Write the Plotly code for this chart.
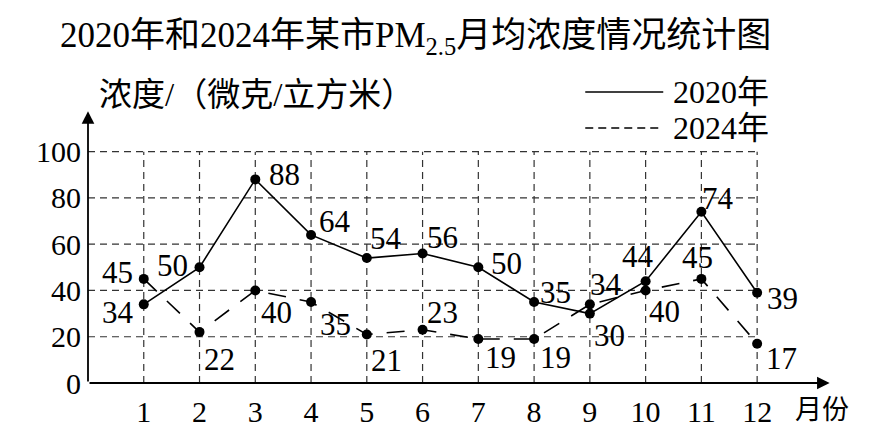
import plotly.graph_objects as go

months = list(range(1, 13))
month_labels = [str(m) for m in months]
v2020 = [34, 50, 88, 64, 54, 56, 50, 35, 30, 44, 74, 39]
v2024 = [45, 22, 40, 35, 21, 23, 19, 19, 34, 40, 45, 17]
yticks = [0, 20, 40, 60, 80, 100]

# label offsets (pixels, right / down) relative to each point -- style only
off2020 = [(-26, 8), (-27, -2), (29, -5), (24, -13), (19, -20), (20, -16),
           (28, -4), (21, -10), (20, 22), (-8, -25), (17, -13), (25, 6)]
off2024 = [(-26, -6), (20, 27), (21, 22), (24, 22), (20, 26), (20, -17),
           (22, 18), (21, 18), (16, -20), (19, 21), (-4, -21), (24, 15)]

FONT = "Liberation Serif, Noto Sans CJK SC, serif"
CJK = "Liberation Serif, Noto Sans CJK SC"

# page body has an 8px margin: shift everything to match
L, T, PB, PR = 80, 102, 61, 60

fig = go.Figure()

shapes = []
for t in yticks[1:]:
    shapes.append(dict(type="line", xref="x", yref="y", x0=0, x1=12, y0=t, y1=t,
                       line=dict(color="#333", width=1.2, dash="7px,5px"), layer="below"))
for m in months:
    shapes.append(dict(type="line", xref="x", yref="y", x0=m, x1=m, y0=0, y1=100,
                       line=dict(color="#333", width=1.2, dash="7px,5px"), layer="below"))

fig.add_trace(go.Scatter(x=months, y=v2020, mode="lines+markers", name="2020年",
                         line=dict(color="black", width=1.6),
                         marker=dict(color="black", size=10),
                         showlegend=False, cliponaxis=False))
fig.add_trace(go.Scatter(x=months, y=v2024, mode="lines+markers", name="2024年",
                         line=dict(color="black", width=1.6, dash="18px,14px"),
                         marker=dict(color="black", size=10),
                         showlegend=False, cliponaxis=False))

annotations = [
    dict(x=0, y=117.5, ax=0, ay=0, xref="x", yref="y", axref="x", ayref="y", text="",
         showarrow=True, arrowhead=2, arrowsize=1.4, arrowwidth=1.8, arrowcolor="black"),
    dict(x=13.3, y=0, ax=0, ay=0, xref="x", yref="y", axref="x", ayref="y", text="",
         showarrow=True, arrowhead=2, arrowsize=1.4, arrowwidth=1.8, arrowcolor="black"),
    dict(x=0.012, y=1.055, xref="paper", yref="paper", xanchor="left", yanchor="middle",
         text="浓度/（微克/立方米）", showarrow=False,
         font=dict(family=CJK, size=33, color="black")),
    dict(x=13.17, y=0, xref="x", yref="y", xanchor="center", yanchor="middle", yshift=-27,
         text="月份", showarrow=False,
         font=dict(family=CJK, size=27, color="black")),
]

for vals, offs in ((v2020, off2020), (v2024, off2024)):
    for m, v, (dx, dy) in zip(months, vals, offs):
        annotations.append(dict(x=m, y=v, xref="x", yref="y", text=str(v), showarrow=False,
                                xanchor="center", yanchor="middle", xshift=dx, yshift=-dy,
                                font=dict(family=FONT, size=31, color="black")))

legend_items = [("2020年", "solid", 1.066), ("2024年", "8px,5px", 0.934)]
for name, dash, yy in legend_items:
    shapes.append(dict(type="line", xref="paper", yref="paper", x0=0.663, x1=0.767,
                       y0=yy, y1=yy, line=dict(color="black", width=1.6, dash=dash)))
    annotations.append(dict(x=0.777, y=yy, xref="paper", yref="paper",
                            xanchor="left", yanchor="middle", text=name, showarrow=False,
                            font=dict(family=CJK, size=32, color="black")))

fig.update_layout(
    width=890, height=436,
    margin=dict(l=L, r=PR, t=T, b=PB),
    plot_bgcolor="white", paper_bgcolor="white",
    title=dict(text="2020年和2024年某市PM<sub>2.5</sub>月均浓度情况统计图",
               x=0.458, xanchor="center", y=0.938, yanchor="middle",
               font=dict(family=CJK, size=35, color="black")),
    xaxis=dict(range=[0, 13.45], tickmode="array", tickvals=months, ticktext=month_labels,
               showgrid=False, zeroline=False, showline=False, ticks="", automargin=False,
               ticklabelstandoff=8,
               tickfont=dict(family=FONT, size=30, color="black")),
    yaxis=dict(range=[0, 118], tickmode="array", tickvals=yticks,
               showgrid=False, zeroline=False, showline=False, ticks="", automargin=False,
               ticklabelstandoff=6,
               tickfont=dict(family=FONT, size=30, color="black")),
    shapes=shapes,
    annotations=annotations,
)

fig.write_html("out.html")
